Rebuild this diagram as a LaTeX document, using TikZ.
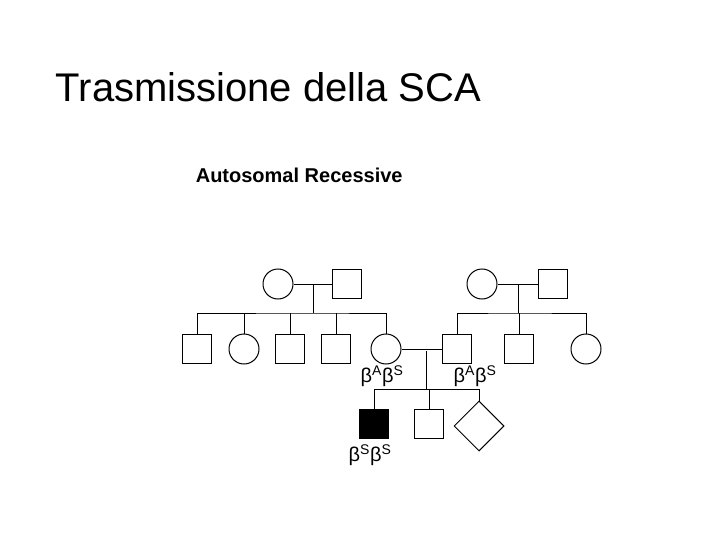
\documentclass[tikz,border=0pt]{standalone}
\usepackage{fontspec}
\setmainfont{Liberation Sans}
\usetikzlibrary{shapes.geometric}
\begin{document}
\begin{tikzpicture}[x=1pt,y=-1pt,line width=1pt,
 m/.style={draw,minimum size=29pt,inner sep=0pt},
 f/.style={draw,circle,minimum size=30pt,inner sep=0pt},
 u/.style={draw,diamond,minimum size=50pt,inner sep=0pt},
 lab/.style={font=\fontsize{20}{20}\selectfont,inner sep=0pt}]
\useasboundingbox (0,0) rectangle (720,540);
\node[anchor=west,font=\fontsize{40}{40}\selectfont] (title) at (52,87) {Trasmissione della SCA};
\node[anchor=west,font=\fontsize{20}{20}\selectfont\bfseries] (sub) at (192,175) {Autosomal Recessive};
% gen 1
\node[f] (g1a) at (278,284) {};
\node[m] (g1b) at (347,284) {};
\node[f] (g1c) at (482,284) {};
\node[m] (g1d) at (553,284) {};
% gen 2
\node[m] (c1) at (197,349) {};
\node[f] (c2) at (244,349) {};
\node[m] (c3) at (290,349) {};
\node[m] (c4) at (336,349) {};
\node[f] (c5) at (386,349) {};
\node[m] (c6) at (457,349) {};
\node[m] (c7) at (519,349) {};
\node[f] (c8) at (586,349) {};
% gen 3
\node[m,fill=black] (d1) at (374,424) {};
\node[m] (d2) at (429,424) {};
\node[u] (d3) at (479,426) {};
\coordinate (j1) at (313,284);
\coordinate (j2) at (518,284);
\coordinate (j3) at (426,351);
\draw (g1a) -- (g1b) (g1c) -- (g1d);
\draw (j1) -- (313,313) (j2) -- (518,313);
\draw (c1.north) |- (313,313) -| (c5.north);
\draw (c2.north) -- (244,313) (c3.north) -- (290,313) (c4.north) -- (336,313);
\draw (c6.north) |- (518,313) -| (c8.north);
\draw (c7.north) -- (519,313);
\draw (c5) -- (c6);
\draw (j3) -- (426,389);
\draw (d1.north) |- (d3.north |- 0,389) -- (d3.north);
\draw (d2.north) -- (d2.north |- 0,389);
\node[lab] (l1) at (382,376) {β\textsuperscript{A}β\textsuperscript{S}};
\node[lab] (l2) at (475,376) {β\textsuperscript{A}β\textsuperscript{S}};
\node[lab] (l3) at (370,455) {β\textsuperscript{S}β\textsuperscript{S}};
\end{tikzpicture}
\end{document}
